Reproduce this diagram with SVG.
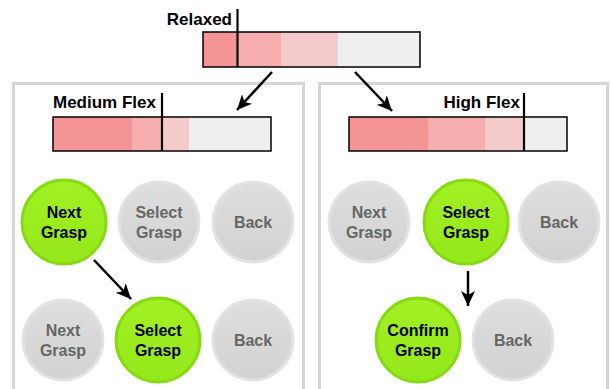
<svg xmlns="http://www.w3.org/2000/svg" width="611" height="389" viewBox="0 0 611 389">
<style>
.lbl{font-family:"Liberation Sans",Arial,sans-serif;font-weight:bold;font-size:17px;fill:#000}
.bt{font-family:"Liberation Sans",Arial,sans-serif;font-weight:bold;font-size:16px;text-anchor:middle}
.on circle{fill:url(#gGreen);stroke:#86da12;stroke-width:3}
.on text{fill:#000}
.off circle{fill:url(#gGray);stroke:#e2e2e2;stroke-width:3}
.off text{fill:#666}
.panel{fill:none;stroke:#d6d6d6;stroke-width:3}
.frame{fill:none;stroke:#000;stroke-width:1.5}
.mark{stroke:#000;stroke-width:2.2}
.s1{fill:#f59494}.s2{fill:#f5adad}.s3{fill:#f3cbcb}.s4{fill:#efefef}
.conn line{stroke:#000;stroke-width:2.5;marker-end:url(#ah)}
</style>
<defs>
<linearGradient id="gGreen" x1="0" y1="0" x2="0" y2="1">
<stop offset="0" stop-color="#a2f024"/><stop offset="1" stop-color="#94e81a"/>
</linearGradient>
<linearGradient id="gGray" x1="0" y1="0" x2="0" y2="1">
<stop offset="0" stop-color="#dedede"/><stop offset="1" stop-color="#d2d2d2"/>
</linearGradient>
<marker id="ah" markerUnits="userSpaceOnUse" markerWidth="16" markerHeight="14" refX="15" refY="7" orient="auto">
<path d="M0,0 L15,7 L0,14 L4,7 z" fill="#000"/>
</marker>
</defs>
<rect width="611" height="389" fill="#fff"/>

<g id="relaxed">
<text class="lbl" x="232" y="25" text-anchor="end">Relaxed</text>
<rect class="s1" x="203" y="32" width="34" height="35"/>
<rect class="s2" x="237" y="32" width="44" height="35"/>
<rect class="s3" x="281" y="32" width="57" height="35"/>
<rect class="s4" x="338" y="32" width="82" height="35"/>
<rect class="frame" x="203" y="32" width="217" height="35"/>
<line class="mark" x1="237.5" y1="9" x2="237.5" y2="67"/>
</g>

<g id="panel-medium">
<path class="panel" d="M13.5,392 V83.5 H303.5 V392"/>
<text class="lbl" x="53" y="108">Medium Flex</text>
<rect class="s1" x="53" y="117" width="79" height="34"/>
<rect class="s2" x="132" y="117" width="30" height="34"/>
<rect class="s3" x="162" y="117" width="27" height="34"/>
<rect class="s4" x="189" y="117" width="82" height="34"/>
<rect class="frame" x="53" y="117" width="218" height="34"/>
<line class="mark" x1="162" y1="93" x2="162" y2="151"/>
</g>

<g id="panel-high">
<path class="panel" d="M319.5,392 V83.5 H607.5 V392"/>
<text class="lbl" x="520" y="108" text-anchor="end">High Flex</text>
<rect class="s1" x="349" y="117" width="79" height="34"/>
<rect class="s2" x="428" y="117" width="57" height="34"/>
<rect class="s3" x="485" y="117" width="39" height="34"/>
<rect class="s4" x="524" y="117" width="43" height="34"/>
<rect class="frame" x="349" y="117" width="218" height="34"/>
<line class="mark" x1="524" y1="93" x2="524" y2="151"/>
</g>

<g id="m-next" class="on"><circle cx="64" cy="222" r="42"/><text class="bt" x="64" y="218">Next</text><text class="bt" x="64" y="238">Grasp</text></g>
<g id="m-select" class="off"><circle cx="159" cy="222" r="40"/><text class="bt" x="159" y="218">Select</text><text class="bt" x="159" y="238">Grasp</text></g>
<g id="m-back" class="off"><circle cx="253" cy="222" r="40"/><text class="bt" x="253" y="228">Back</text></g>

<g id="m2-next" class="off"><circle cx="63" cy="340" r="40"/><text class="bt" x="63" y="336">Next</text><text class="bt" x="63" y="356">Grasp</text></g>
<g id="m2-select" class="on"><circle cx="158" cy="340" r="42"/><text class="bt" x="158" y="336">Select</text><text class="bt" x="158" y="356">Grasp</text></g>
<g id="m2-back" class="off"><circle cx="253" cy="340" r="40"/><text class="bt" x="253" y="346">Back</text></g>

<g id="h-next" class="off"><circle cx="369" cy="222" r="40"/><text class="bt" x="369" y="218">Next</text><text class="bt" x="369" y="238">Grasp</text></g>
<g id="h-select" class="on"><circle cx="466" cy="222" r="42"/><text class="bt" x="466" y="218">Select</text><text class="bt" x="466" y="238">Grasp</text></g>
<g id="h-back" class="off"><circle cx="559" cy="222" r="40"/><text class="bt" x="559" y="228">Back</text></g>

<g id="h2-confirm" class="on"><circle cx="418" cy="340" r="42"/><text class="bt" x="418" y="336">Confirm</text><text class="bt" x="418" y="356">Grasp</text></g>
<g id="h2-back" class="off"><circle cx="513" cy="340" r="40"/><text class="bt" x="513" y="346">Back</text></g>

<g id="connectors" class="conn">
<line x1="272" y1="72" x2="237" y2="110"/>
<line x1="355" y1="72" x2="392" y2="111"/>
<line x1="94" y1="260" x2="131" y2="299"/>
<line x1="468" y1="271" x2="468" y2="306"/>
</g>
</svg>
